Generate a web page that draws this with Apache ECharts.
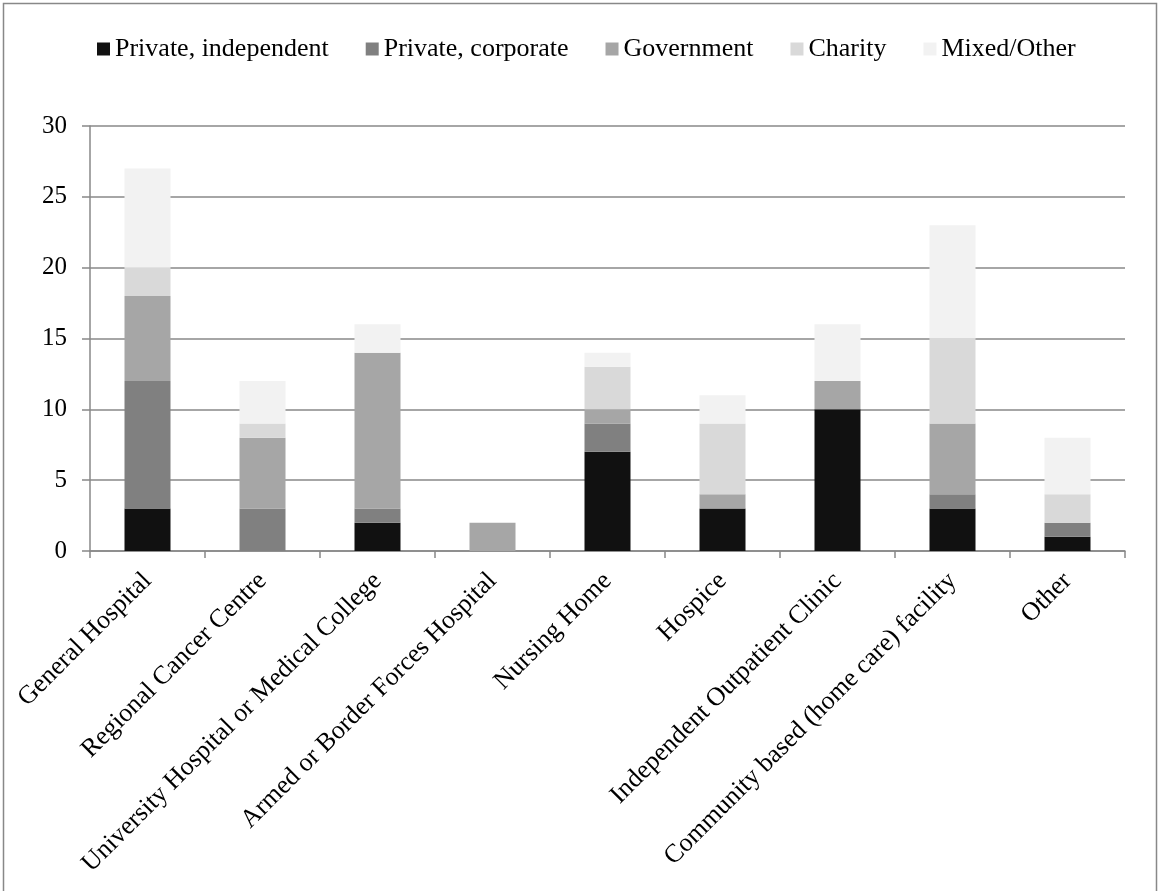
<!DOCTYPE html>
<html>
<head>
<meta charset="utf-8">
<script src="https://cdn.jsdelivr.net/npm/echarts@6/dist/echarts.min.js"></script>
<style>
  html, body { margin: 0; padding: 0; background: #fff; }
  #bar { width: 1162px; height: 891px; }
</style>
</head>
<body>
<div class="bar" id="bar"></div>
<script>
// categories and series values
const categories = [
  'General Hospital',
  'Regional Cancer Centre',
  'University Hospital or Medical College',
  'Armed or Border Forces Hospital',
  'Nursing Home',
  'Hospice',
  'Independent Outpatient Clinic',
  'Community based (home care) facility',
  'Other'
]
const privateIndependent = [3, 0, 2, 0, 7, 3, 10, 3, 1]
const privateCorporate = [9, 3, 1, 0, 2, 0, 0, 1, 1]
const government = [6, 5, 11, 2, 1, 1, 2, 5, 0]
const charity = [2, 1, 0, 0, 3, 5, 0, 6, 2]
const mixedOther = [7, 3, 2, 0, 1, 2, 4, 8, 4]

const seriesNames = ['Private, independent', 'Private, corporate', 'Government', 'Charity', 'Mixed/Other']
const seriesColors = ['#111111', '#808080', '#a6a6a6', '#d9d9d9', '#f2f2f2']
const seriesData = [privateIndependent, privateCorporate, government, charity, mixedOther]

const fontFamily = '"Liberation Serif", "Times New Roman", serif'

let barBox = echarts.init(document.getElementById('bar'))
let option = {
  backgroundColor: '#fff',
  textStyle: { fontFamily: fontFamily },
  animation: false,
  // outer chart frame
  graphic: [
    {
      type: 'rect',
      shape: { x: 3.5, y: 3.5, width: 1153, height: 900 },
      style: { fill: 'none', stroke: '#888', lineWidth: 1.5 },
      silent: true
    }
  ],
  legend: {
    top: 31,
    left: 92,
    icon: 'rect',
    itemWidth: 13,
    itemHeight: 13,
    itemGap: 37,
    textStyle: { fontFamily: fontFamily, fontSize: 26, color: '#000' },
    data: seriesNames
  },
  grid: {
    left: 90,
    right: 37,
    top: 126,
    bottom: 340,
    containLabel: false
  },
  xAxis: {
    type: 'category',
    data: categories,
    axisLine: { lineStyle: { color: '#888', width: 1.5 } },
    axisTick: { show: true, length: 7, lineStyle: { color: '#888', width: 1.5 } },
    axisLabel: {
      rotate: 45,
      interval: 0,
      margin: 26,
      fontFamily: fontFamily,
      fontSize: 26,
      color: '#000'
    }
  },
  yAxis: {
    type: 'value',
    min: 0,
    max: 30,
    interval: 5,
    axisLine: { show: true, lineStyle: { color: '#888', width: 1.5 } },
    axisTick: { show: true, length: 8, lineStyle: { color: '#888', width: 1.5 } },
    splitLine: { lineStyle: { color: '#888', width: 1.5 } },
    axisLabel: {
      margin: 23,
      fontFamily: fontFamily,
      fontSize: 25,
      color: '#000'
    }
  },
  series: seriesNames.map((name, i) => ({
    name: name,
    type: 'bar',
    stack: 'total',
    barWidth: '40%',
    data: seriesData[i],
    itemStyle: { color: seriesColors[i] }
  }))
}
barBox.setOption(option, true)
</script>
</body>
</html>
